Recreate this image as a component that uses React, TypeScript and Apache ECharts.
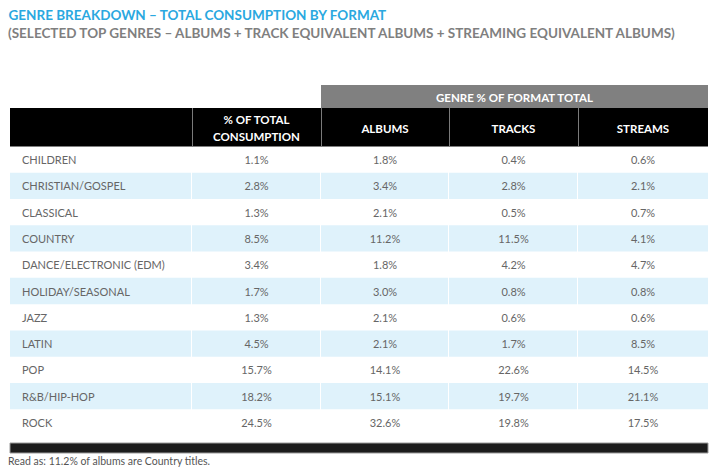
import React, { useEffect, useRef } from "react";
import * as echarts from "echarts";

const titleText = "GENRE BREAKDOWN – TOTAL CONSUMPTION BY FORMAT";
const subtitleText = "(SELECTED TOP GENRES – ALBUMS + TRACK EQUIVALENT ALBUMS + STREAMING EQUIVALENT ALBUMS)";
const groupHeader = "GENRE % OF FORMAT TOTAL";
const columnHeaders = [[""], ["% OF TOTAL", "CONSUMPTION"], ["ALBUMS"], ["TRACKS"], ["STREAMS"]];
const noteText = "Read as: 11.2% of albums are Country titles.";

const genres = [
  "CHILDREN",
  "CHRISTIAN/GOSPEL",
  "CLASSICAL",
  "COUNTRY",
  "DANCE/ELECTRONIC (EDM)",
  "HOLIDAY/SEASONAL",
  "JAZZ",
  "LATIN",
  "POP",
  "R&B/HIP-HOP",
  "ROCK",
];
const totalShare = [1.1, 2.8, 1.3, 8.5, 3.4, 1.7, 1.3, 4.5, 15.7, 18.2, 24.5];
const albums = [1.8, 3.4, 2.1, 11.2, 1.8, 3.0, 2.1, 2.1, 14.1, 15.1, 32.6];
const tracks = [0.4, 2.8, 0.5, 11.5, 4.2, 0.8, 0.6, 1.7, 22.6, 19.7, 19.8];
const streams = [0.6, 2.1, 0.7, 4.1, 4.7, 0.8, 0.6, 8.5, 14.5, 21.1, 17.5];

// layout (table units = pixels inside the grid)
const colEdges = [0, 182, 311, 439, 568, 698];
const TABLE_LEFT = 10;
const BODY_TOP = 146.5;
const BODY_H = 289;
const FONT = "Lato, 'Open Sans', sans-serif";
const BLUE = "#dff2fb";
const TEXT = "#666666";

export default function App() {
  const ref = useRef<HTMLDivElement>(null);
  useEffect(() => {
    if (!ref.current) return;
    const chart = echarts.init(ref.current, null, { renderer: "svg" });
    const cols = [totalShare, albums, tracks, streams];
    const px = (e: number) => TABLE_LEFT + e;

    const graphics: any[] = [
      {
        type: "text",
        style: {
          text: titleText,
          x: 8.5,
          y: 14.5,
          verticalAlign: "middle",
          fill: "#2aa8e0",
          font: `bold 13.5px ${FONT}`,
        },
      },
      {
        type: "text",
        style: {
          text: subtitleText,
          x: 8,
          y: 33,
          verticalAlign: "middle",
          fill: "#7f7f7f",
          font: `bold 13.5px ${FONT}`,
        },
      },
      {
        type: "rect",
        shape: { x: px(colEdges[2]), y: 85, width: colEdges[5] - colEdges[2], height: 23 },
        style: { fill: "#808080" },
      },
      {
        type: "text",
        style: {
          text: groupHeader,
          x: px((colEdges[2] + colEdges[5]) / 2),
          y: 97,
          align: "center",
          verticalAlign: "middle",
          fill: "#ffffff",
          font: `bold 11.5px ${FONT}`,
        },
      },
      {
        type: "rect",
        shape: { x: px(0), y: 108, width: colEdges[5], height: 38.5 },
        style: { fill: "#000000" },
      },
      {
        type: "rect",
        shape: { x: px(0), y: 443, width: colEdges[5], height: 10 },
        style: { fill: "#1c1c1c", stroke: "#9a9a9a", lineWidth: 1 },
      },
      {
        type: "text",
        style: {
          text: noteText,
          x: 8,
          y: 461,
          verticalAlign: "middle",
          fill: "#555555",
          font: `10.5px ${FONT}`,
        },
      },
    ];
    for (let c = 1; c < colEdges.length - 1; c++) {
      graphics.push({
        type: "line",
        shape: { x1: px(colEdges[c]) + 0.5, y1: 108, x2: px(colEdges[c]) + 0.5, y2: 146.5 },
        style: { stroke: "#7a7a7a", lineWidth: 1 },
      });
    }
    columnHeaders.forEach((lines, c) => {
      const cx = px((colEdges[c] + colEdges[c + 1]) / 2);
      lines.forEach((t, k) => {
        if (!t) return;
        const y = lines.length === 1 ? 128 : 119 + k * 17;
        graphics.push({
          type: "text",
          style: {
            text: t,
            x: cx,
            y,
            align: "center",
            verticalAlign: "middle",
            fill: "#ffffff",
            font: `bold 11.5px ${FONT}`,
          },
        });
      });
    });

    chart.setOption({
      animation: false,
      grid: { left: TABLE_LEFT, top: BODY_TOP, width: colEdges[5], height: BODY_H },
      xAxis: { type: "value", min: 0, max: colEdges[5], show: false },
      yAxis: { type: "category", data: genres, inverse: true, show: false },
      graphic: graphics,
      series: [
        {
          type: "custom",
          data: genres.map((_, i) => [0, i]),
          encode: { x: 0, y: 1 },
          renderItem: (params: any, api: any) => {
            const i = api.value(1);
            const center = api.coord([0, i]);
            const h = api.size([0, 1])[1];
            const top = center[1] - h / 2;
            const children: any[] = [];
            for (let c = 0; c < colEdges.length - 1; c++) {
              const x0 = api.coord([colEdges[c], i])[0];
              const x1 = api.coord([colEdges[c + 1], i])[0];
              if (i % 2 === 1) {
                children.push({
                  type: "rect",
                  shape: { x: x0, y: top, width: x1 - x0 - (c < colEdges.length - 2 ? 1 : 0), height: h },
                  style: { fill: BLUE },
                });
              }
              if (c === 0) {
                children.push({
                  type: "text",
                  style: {
                    text: genres[i],
                    x: x0 + 12,
                    y: center[1],
                    align: "left",
                    verticalAlign: "middle",
                    fill: TEXT,
                    font: `11px ${FONT}`,
                  },
                });
              } else {
                children.push({
                  type: "text",
                  style: {
                    text: cols[c - 1][i].toFixed(1) + "%",
                    x: (x0 + x1) / 2,
                    y: center[1],
                    align: "center",
                    verticalAlign: "middle",
                    fill: TEXT,
                    font: `11px ${FONT}`,
                  },
                });
              }
            }
            return { type: "group", children };
          },
        },
      ],
    });
    return () => chart.dispose();
  }, []);
  return <div ref={ref} style={{ width: 720, height: 474, position: "absolute", left: 0, top: 0 }} />;
}
